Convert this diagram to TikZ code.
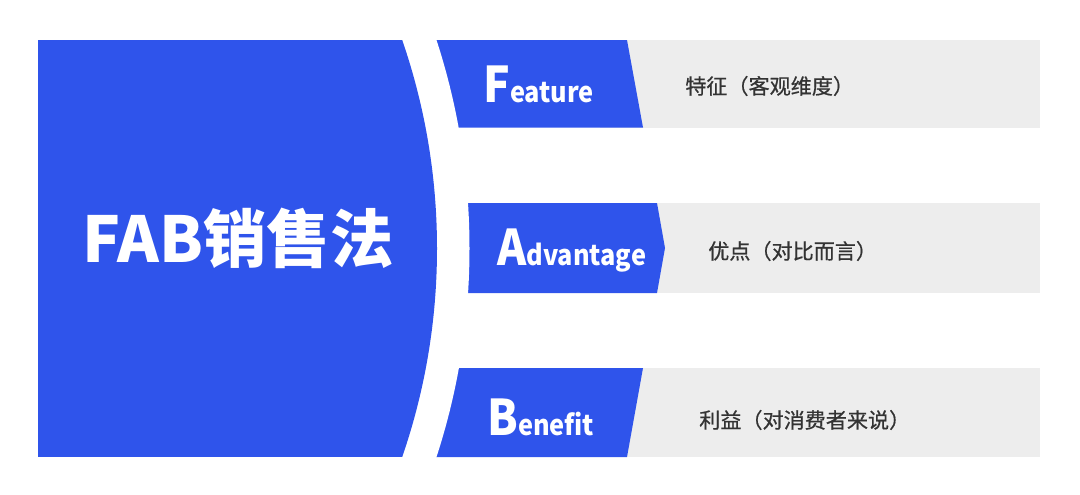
\documentclass[tikz,border=0pt]{standalone}
\usepackage{fontspec}
\usepackage{graphicx}
\setmainfont{Noto Sans CJK SC}
\newfontfamily\descfont[FakeBold=0.6]{Noto Sans CJK SC}
\usetikzlibrary{positioning}
\definecolor{fabblue}{RGB}{47, 84, 235}
\definecolor{bandgray}{RGB}{237, 237, 237}
\definecolor{textgray}{RGB}{51, 51, 51}
\newcommand{\tabword}[2]{\scalebox{0.9}[1]{{\fontsize{35}{35}\selectfont #1}{\fontsize{20}{20}\selectfont #2}}}

\begin{document}
\begin{tikzpicture}[x=0.025cm, y=-0.025cm, every node/.style={inner sep=0pt},
    title/.style={text=white, font=\bfseries\fontsize{45}{45}\selectfont},
    tablabel/.style={anchor=base west, text=white, font=\bfseries},
    desc/.style={anchor=west, text=textgray, font=\descfont\fontsize{15}{15}\selectfont}]
    \useasboundingbox (0,0) rectangle (1080,494);

    % Gray bands
    \foreach \top/\bot in {40/127.5, 203/293, 368/457} {
        \fill[bandgray] (600,\top) rectangle (1040,\bot);
    }

    % Blue tabs
    \fill[fabblue] (400,40) -- (627,40) -- (643,127.5) -- (400,127.5) -- cycle;
    \fill[fabblue] (400,203) -- (657,203) -- (665,248) -- (657,293) -- (400,293) -- cycle;
    \fill[fabblue] (400,368) -- (643,368) -- (627,457) -- (400,457) -- cycle;

    % White gap along the arc
    \fill[white] (-201.5,248.5) circle[radius=671];

    % Big block
    \begin{scope}
        \clip (-201.5,248.5) circle[radius=638.5];
        \fill[fabblue] (38,40) rectangle (440,457);
    \end{scope}

    % Labels
    \node[title] (fab) at (238,238) {FAB销售法};
    \node[tablabel] (feature) at (483,102) {\tabword{F}{eature}};
    \node[tablabel] (advantage) at (497,265) {\tabword{A}{dvantage}};
    \node[tablabel] (benefit) at (487,435) {\tabword{B}{enefit}};
    \node[desc] (featuredesc) at (685,86) {特征（客观维度）};
    \node[desc] (advantagedesc) at (708,251) {优点（对比而言）};
    \node[desc] (benefitdesc) at (699,420) {利益（对消费者来说）};
\end{tikzpicture}
\end{document}
